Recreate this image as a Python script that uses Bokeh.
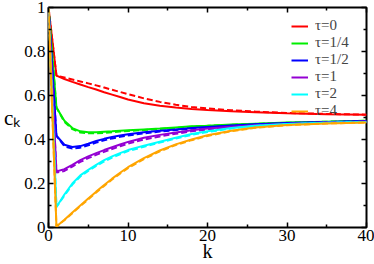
from bokeh.plotting import figure
from bokeh.models import Range1d, FixedTicker, LinearAxis, Legend, LegendItem
from bokeh.embed import file_html
from bokeh.resources import INLINE

# ---- data ----
k = [0, 1, 2, 3, 4, 5, 6, 7, 8, 9, 10, 12, 14, 16, 18, 20, 23, 26, 30, 35, 40]

labels = ["τ=0", "τ=1/4", "τ=1/2", "τ=1", "τ=2", "τ=4"]
colors = ["#ff0000", "#00ee00", "#0000ff", "#9400d3", "#00ffff", "#ffa500"]

tau0_solid = [1.0, 0.690, 0.675, 0.662, 0.650, 0.638, 0.627, 0.615, 0.604, 0.593, 0.582,
              0.565, 0.553, 0.545, 0.539, 0.534, 0.528, 0.524, 0.519, 0.515, 0.512]
tau0_dash = [1.0, 0.690, 0.682, 0.673, 0.664, 0.655, 0.646, 0.636, 0.626, 0.616, 0.606,
             0.587, 0.571, 0.558, 0.548, 0.541, 0.533, 0.527, 0.521, 0.516, 0.513]

tau14_solid = [1.0, 0.545, 0.485, 0.452, 0.437, 0.433, 0.433, 0.435, 0.437, 0.440, 0.442,
               0.446, 0.450, 0.455, 0.460, 0.463, 0.468, 0.472, 0.477, 0.481, 0.485]
tau14_dash = [1.0, 0.545, 0.480, 0.447, 0.432, 0.428, 0.428, 0.430, 0.433, 0.436, 0.439,
              0.443, 0.448, 0.453, 0.458, 0.462, 0.467, 0.471, 0.476, 0.481, 0.485]

tau12_solid = [1.0, 0.417, 0.376, 0.366, 0.370, 0.381, 0.393, 0.403, 0.411, 0.418, 0.424,
               0.433, 0.440, 0.446, 0.452, 0.457, 0.464, 0.469, 0.475, 0.480, 0.484]
tau12_dash = [1.0, 0.417, 0.369, 0.359, 0.363, 0.374, 0.386, 0.396, 0.405, 0.412, 0.418,
              0.428, 0.436, 0.443, 0.449, 0.455, 0.462, 0.468, 0.474, 0.479, 0.484]

tau1_solid = [1.0, 0.255, 0.265, 0.285, 0.306, 0.323, 0.338, 0.352, 0.365, 0.377, 0.389,
              0.408, 0.421, 0.432, 0.442, 0.450, 0.458, 0.465, 0.471, 0.477, 0.481]
tau1_dash = [1.0, 0.250, 0.257, 0.277, 0.298, 0.315, 0.330, 0.344, 0.357, 0.369, 0.381,
             0.400, 0.414, 0.426, 0.437, 0.446, 0.455, 0.463, 0.470, 0.476, 0.481]

tau2_solid = [1.0, 0.093, 0.150, 0.200, 0.237, 0.262, 0.285, 0.306, 0.323, 0.338, 0.352,
              0.372, 0.390, 0.408, 0.425, 0.437, 0.452, 0.462, 0.470, 0.476, 0.480]
tau2_dash = [1.0, 0.093, 0.145, 0.195, 0.232, 0.257, 0.280, 0.300, 0.318, 0.333, 0.347,
             0.367, 0.386, 0.404, 0.421, 0.434, 0.450, 0.461, 0.469, 0.476, 0.480]

tau4_solid = [1.0, 0.005, 0.035, 0.068, 0.100, 0.132, 0.163, 0.193, 0.222, 0.249, 0.274,
              0.315, 0.350, 0.378, 0.400, 0.419, 0.440, 0.455, 0.466, 0.473, 0.477]
tau4_dash = [1.0, 0.005, 0.033, 0.065, 0.097, 0.128, 0.159, 0.189, 0.218, 0.245, 0.270,
             0.311, 0.346, 0.375, 0.397, 0.416, 0.438, 0.453, 0.465, 0.473, 0.477]

solid = [tau0_solid, tau14_solid, tau12_solid, tau1_solid, tau2_solid, tau4_solid]
dashed = [tau0_dash, tau14_dash, tau12_dash, tau1_dash, tau2_dash, tau4_dash]

x_ticks = [0, 10, 20, 30, 40]
x_minor = [5, 15, 25, 35]
y_ticks = [0, 0.2, 0.4, 0.6, 0.8, 1.0]
y_minor = [0.1, 0.3, 0.5, 0.7, 0.9]
y_tick_labels = {0: "0", 0.2: "0.2", 0.4: "0.4", 0.6: "0.6", 0.8: "0.8", 1.0: "1"}
x_title = "k"
y_title = "c\u2096"

FONT = "Liberation Serif"

p = figure(width=374, height=264, output_backend="svg", toolbar_location=None,
           x_range=Range1d(0, 40), y_range=Range1d(0, 1),
           min_border_left=47, min_border_right=8, min_border_top=7, min_border_bottom=36)
p.xgrid.visible = False
p.ygrid.visible = False
p.outline_line_color = "black"
p.outline_line_width = 2
p.background_fill_color = "white"
p.border_fill_color = "white"

xt = FixedTicker(ticks=x_ticks, minor_ticks=x_minor)
yt = FixedTicker(ticks=y_ticks, minor_ticks=y_minor)


def style_axis(ax):
    ax.axis_line_color = None
    ax.major_tick_in = 5
    ax.major_tick_out = 0
    ax.minor_tick_in = 3
    ax.minor_tick_out = 0
    ax.major_tick_line_width = 1.5
    ax.minor_tick_line_width = 1.5
    ax.major_tick_line_color = "black"
    ax.minor_tick_line_color = "black"
    ax.major_label_text_font = FONT
    ax.major_label_text_font_size = "17px"
    ax.major_label_text_color = "black"


xaxis = p.xaxis[0]
yaxis = p.yaxis[0]
xaxis.ticker = xt
yaxis.ticker = yt
style_axis(xaxis)
style_axis(yaxis)
xaxis.major_label_standoff = 2
yaxis.major_label_standoff = 3
yaxis.major_label_overrides = y_tick_labels

xaxis.axis_label = x_title
xaxis.axis_label_text_font = FONT
xaxis.axis_label_text_font_size = "20px"
xaxis.axis_label_text_font_style = "normal"
xaxis.axis_label_text_color = "black"
xaxis.axis_label_standoff = -4

yaxis.axis_label = y_title
yaxis.axis_label_text_font = FONT
yaxis.axis_label_text_font_size = "21px"
yaxis.axis_label_text_font_style = "normal"
yaxis.axis_label_text_color = "black"
yaxis.axis_label_standoff = 1
yaxis.axis_label_orientation = "horizontal"

# tick-only axes on the top and right (labels blanked and folded inside the frame)
top = LinearAxis(ticker=xt)
right = LinearAxis(ticker=yt)
for ax, tks in ((top, x_ticks), (right, y_ticks)):
    style_axis(ax)
    ax.major_label_overrides = {t: "" for t in tks}
    ax.major_label_text_font_size = "10px"
    ax.major_label_text_alpha = 0
    ax.major_label_standoff = -14
p.add_layout(top, "above")
p.add_layout(right, "right")

items = []
for lab, col, ys, yd in zip(labels, colors, solid, dashed):
    rs = p.line(k, ys, line_color=col, line_width=2)
    p.line(k, yd, line_color=col, line_width=2, line_dash="6 3")
    items.append(LegendItem(label=lab, renderers=[rs]))

legend = Legend(items=items, location="top_right", border_line_color=None,
                background_fill_alpha=0, label_text_font=FONT, label_text_font_size="15px",
                glyph_width=17, glyph_height=14, label_height=14, label_width=41,
                label_standoff=7, spacing=-2, padding=0, margin=10)
p.add_layout(legend)

open("out.html", "w").write(file_html(p, INLINE))
